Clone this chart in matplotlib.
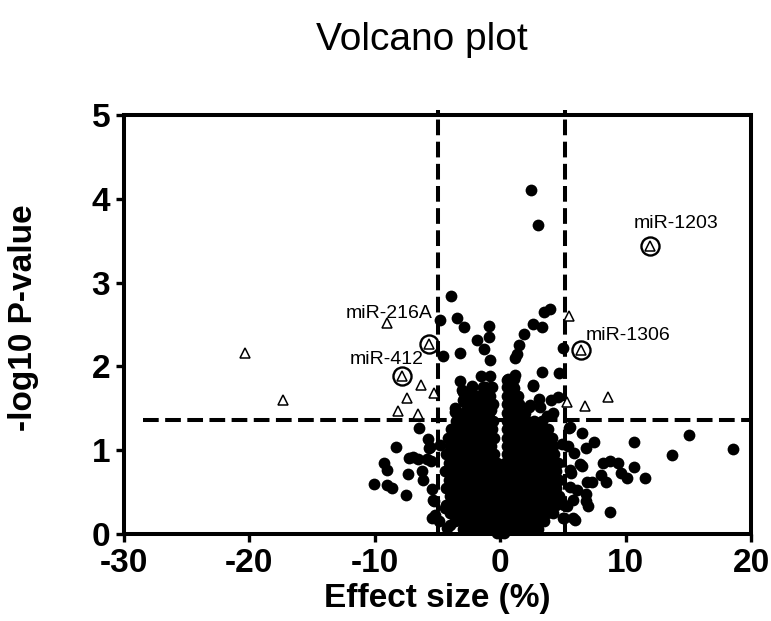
import matplotlib
matplotlib.use('Agg')
import matplotlib.pyplot as plt
import numpy as np

plt.rcParams['font.family'] = ['Liberation Sans', 'DejaVu Sans']
plt.rcParams['axes.unicode_minus'] = False

# ---------------- data ----------------
# filled dots: high points
high_x = [2.46, 2.98]
high_y = [4.11, 3.69]

# upper-left lobe (above/near threshold, effect < 0)
lobe_left_x = [-3.95, -4.80, -3.45, -2.92, -0.88, -0.92, -1.82, -1.34, -0.83, -3.24,
               -4.58, -3.18, -1.55, -0.85, -2.28, -3.00, -2.11, -1.40, -0.72, -2.88,
               -1.45, -0.72, -3.65, -2.62, -1.75, -3.08, -2.28, -1.35, -2.95, -1.88,
               -1.08, -3.61, -2.68, -1.62, -0.82]
lobe_left_y = [2.84, 2.56, 2.58, 2.47, 2.48, 2.35, 2.31, 2.21, 2.08, 2.16,
               2.12, 1.83, 1.88, 1.89, 1.77, 1.70, 1.66, 1.68, 1.76, 1.58,
               1.58, 1.48, 1.46, 1.46, 1.45, 1.72, 1.76, 1.76, 1.60, 1.64,
               1.62, 1.50, 1.48, 1.52, 1.48]

# upper-right lobe (effect > 0)
lobe_right_x = [3.96, 3.47, 2.63, 3.32, 1.88, 1.47, 1.31, 1.17, 1.16, 3.35,
                4.68, 5.02, 2.58, 1.05, 0.88, 3.07, 4.59, 4.04, 3.16, 2.32,
                4.21, 3.68, 0.50, 2.63, 2.37]
lobe_right_y = [2.69, 2.65, 2.51, 2.47, 2.39, 2.25, 2.15, 2.10, 1.90, 1.93,
                1.92, 2.22, 1.77, 1.74, 1.60, 1.61, 1.63, 1.60, 1.52, 1.52,
                1.45, 1.41, 1.84, 1.78, 1.54]

# scattered dots left of the core (below threshold)
outer_left_x = [-8.32, -9.30, -9.02, -10.07, -9.05, -8.67, -7.54, -7.37, -7.26, -6.56,
                -6.47, -5.79, -5.72, -6.21, -6.14, -5.44, -5.51, -5.26, -5.44, -4.91,
                -4.21, -4.39, -4.04, -4.80, -5.60, -5.86, -6.93, -5.34, -5.20, -4.00,
                -2.92]
outer_left_y = [1.04, 0.85, 0.77, 0.60, 0.59, 0.55, 0.47, 0.72, 0.91, 0.89,
                1.27, 1.13, 1.03, 0.75, 0.65, 0.54, 0.87, 0.39, 0.19, 0.15,
                0.07, 0.31, 0.55, 1.06, 1.04, 0.90, 0.92, 0.41, 0.23, 0.11,
                0.09]

# scattered dots right of the core (below threshold)
outer_right_x = [18.55, 15.00, 13.67, 10.62, 10.64, 11.55, 10.13, 9.60, 9.38, 8.76,
                 8.20, 8.03, 8.38, 7.27, 8.70, 7.47, 6.86, 6.52, 6.52, 5.89,
                 5.44, 5.37, 6.86, 6.95, 6.84, 5.96, 5.09, 6.14, 5.61, 5.09,
                 5.55, 5.55, 6.35, 6.88, 5.55, 5.82, 5.29, 5.02, 5.82, 4.89]
outer_right_y = [1.01, 1.18, 0.94, 1.10, 0.80, 0.67, 0.67, 0.73, 0.85, 0.87,
                 0.85, 0.70, 0.62, 0.62, 0.26, 1.10, 1.03, 1.21, 0.81, 0.97,
                 1.27, 1.05, 0.48, 0.33, 0.39, 0.17, 0.19, 0.53, 0.73, 0.35,
                 1.28, 0.76, 0.84, 0.62, 0.56, 0.41, 0.33, 0.19, 0.19, 1.08]

# dense core, read row by row (y level -> x values)
core_rows_y = [0.01, 0.06, 0.15, 0.25, 0.35, 0.45, 0.55, 0.65, 0.75, 0.85,
               0.95, 1.05, 1.15, 1.25, 1.35, 1.45, 1.55, 1.65, 1.75, 1.85]
core_rows_x = [
    [-0.3, 0.0, 0.3],
    [-3.0, -2.45, -1.9, -1.35, -0.8, -0.25, 0.3, 0.85, 1.4, 1.95, 2.5, 3.0],
    [-3.6, -3.05, -2.5, -1.95, -1.4, -0.85, -0.3, 0.25, 0.8, 1.35, 1.9, 2.45, 3.0, 3.5],
    [-4.0, -3.45, -2.9, -2.35, -1.8, -1.25, -0.7, -0.15, 0.4, 0.95, 1.5, 2.05, 2.6, 3.15, 3.7, 4.2],
    [-4.3, -3.75, -3.2, -2.65, -2.1, -1.55, -1.0, -0.45, 0.1, 0.65, 1.2, 1.75, 2.3, 2.85, 3.4, 3.95, 4.45],
    [-4.05, -3.5, -2.95, -2.4, -1.85, -1.3, -0.75, -0.2, 0.35, 0.9, 1.45, 2.0, 2.55, 3.1, 3.65, 4.2, 4.7],
    [-4.35, -3.8, -3.25, -2.7, -2.15, -1.6, -1.05, -0.5, 0.05, 0.6, 1.15, 1.7, 2.25, 2.8, 3.35, 3.9, 4.45],
    [-4.1, -3.55, -3.0, -2.45, -1.9, -1.35, -0.8, -0.25, 0.3, 0.85, 1.4, 1.95, 2.5, 3.05, 3.6, 4.15, 4.65],
    [-4.4, -3.85, -3.3, -2.75, -2.2, -1.65, -1.1, -0.55, 0.05, 0.6, 1.15, 1.7, 2.25, 2.8, 3.35, 3.9, 4.45],
    [-4.1, -3.55, -3.0, -2.45, -1.9, -1.35, -0.8, -0.3, 0.35, 0.85, 1.4, 1.95, 2.5, 3.05, 3.6, 4.15, 4.6],
    [-4.3, -3.75, -3.2, -2.65, -2.1, -1.55, -1.0, -0.5, 0.5, 1.05, 1.6, 2.15, 2.7, 3.25, 3.8, 4.3],
    [-4.0, -3.45, -2.9, -2.35, -1.8, -1.25, -0.75, 0.55, 1.0, 1.5, 2.05, 2.6, 3.15, 3.7, 4.2],
    [-4.2, -3.65, -3.1, -2.55, -2.0, -1.45, -0.9, -0.5, 0.5, 0.95, 1.45, 2.0, 2.55, 3.1, 3.65, 4.1],
    [-3.9, -3.35, -2.8, -2.25, -1.7, -1.15, -0.65, 0.55, 1.05, 1.6, 2.15, 2.7, 3.25, 3.8],
    [-3.5, -2.9, -2.3, -1.7, -1.1, -0.55, 0.5, 1.0, 1.55, 2.1, 2.7, 3.3],
    [-3.0, -2.2, -1.5, -0.9, 0.5, 0.95, 1.4, 2.0],
    [-2.6, -1.9, -1.2, -0.6, 0.55, 1.0, 1.5],
    [-2.3, -1.5, -0.8, 0.5, 0.95, 1.4],
    [-1.2, -0.7, 0.55, 1.0],
    [0.6, 1.1],
]

# open triangles (significant miRNAs)
tri_x = [-20.38, -17.30, -9.00, -6.35, -7.42, -5.26, -8.18, -6.60, 5.46, 5.29, 6.78, 8.56]
tri_y = [2.16, 1.60, 2.52, 1.78, 1.62, 1.68, 1.47, 1.43, 2.60, 1.58, 1.53, 1.64]

# labelled (circled) miRNAs
lab_names = ['miR-1203', 'miR-216A', 'miR-412', 'miR-1306']
lab_x = [11.96, -5.65, -7.83, 6.45]
lab_y = [3.44, 2.27, 1.88, 2.20]

# thresholds
thr_effect = [-5.0, 5.17]
thr_logp = 1.36

# ---------------- figure ----------------
fig = plt.figure(figsize=(7.71, 6.21), dpi=100)
ax = fig.add_axes([0.1606, 0.140, 0.8139, 0.6748])
ax.set_xlim(-30, 20)
ax.set_ylim(0, 5)

dash = (3.9, 1.6)
for xv in thr_effect:
    ax.plot([xv, xv], [0, 5.06], color='black', lw=2.9, dashes=dash,
            clip_on=False, zorder=1)
ax.plot([-28.5, 20], [thr_logp, thr_logp], color='black', lw=2.9, dashes=dash,
        clip_on=False, zorder=1)

dot_x = high_x + lobe_left_x + lobe_right_x + outer_left_x + outer_right_x
dot_y = high_y + lobe_left_y + lobe_right_y + outer_left_y + outer_right_y
for yv, xs in zip(core_rows_y, core_rows_x):
    dot_x += xs
    dot_y += [yv] * len(xs)
ax.scatter(dot_x, dot_y, s=72, color='black', linewidths=0, zorder=2, clip_on=False)

ax.plot(tri_x + lab_x, tri_y + lab_y, linestyle='none', marker='^', markersize=7.8,
        markerfacecolor='white', markeredgecolor='black', markeredgewidth=1.1, zorder=3)
ax.plot(lab_x, lab_y, linestyle='none', marker='o', markersize=13,
        markerfacecolor='none', markeredgecolor='black', markeredgewidth=1.7, zorder=3)

offsets = [(-12.3, 12.5, 'left'), (2.2, 18.5, 'right'), (15.5, 9.0, 'right'), (3.5, 7.0, 'left')]
for name, xv, yv, (dx, dy, ha) in zip(lab_names, lab_x, lab_y, offsets):
    ax.annotate(name, (xv, yv), xytext=(dx, dy), textcoords='offset points',
                ha=ha, va='baseline', fontsize=14, zorder=4)

for s in ax.spines.values():
    s.set_linewidth(2.9)
ax.set_xticks([-30, -20, -10, 0, 10, 20])
ax.set_yticks([0, 1, 2, 3, 4, 5])
ax.tick_params(direction='out', length=5.8, width=2.4, labelsize=24)
ax.tick_params(axis='x', pad=4.5)
ax.tick_params(axis='y', pad=4.0)
for lab in ax.get_xticklabels() + ax.get_yticklabels():
    lab.set_fontweight('bold')

fig.text(422 / 771, 1 - 50 / 621, 'Volcano plot', ha='center', va='baseline', fontsize=28)
fig.text(437.5 / 771, 1 - 607 / 621, 'Effect size (%)', ha='center', va='baseline',
         fontsize=24, fontweight='bold')
fig.text(24 / 771, 1 - 318 / 621, '-log10 P-value', ha='center', va='center',
         rotation=90, fontsize=24, fontweight='bold')

fig.savefig('out.png', dpi=100)
